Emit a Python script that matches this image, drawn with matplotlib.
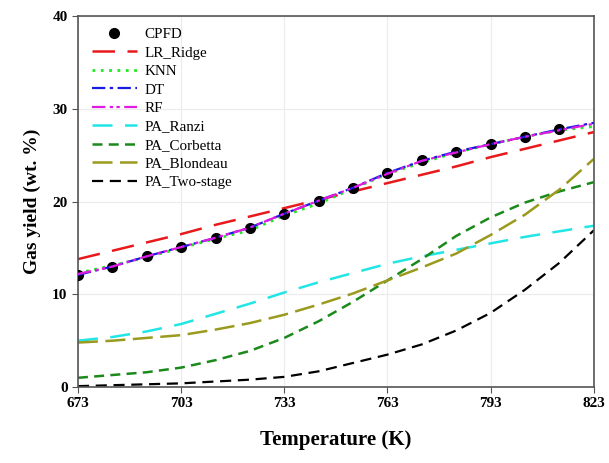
"""Gas yield vs temperature: CPFD points vs ML models and kinetic schemes."""

import matplotlib.pyplot as plt

# CPFD simulation points (every 10 K)
cpfd_t = [673, 683, 693, 703, 713, 723, 733, 743, 753, 763, 773, 783, 793, 803, 813]
cpfd_y = [12.1, 13.0, 14.1, 15.1, 16.1, 17.2, 18.7, 20.1, 21.5, 23.1, 24.5, 25.4, 26.2, 27.0, 27.8]

# model curves
temp = [673, 683, 693, 703, 713, 723, 733, 743, 753, 763, 773, 783, 793, 803, 813, 823]
lr_ridge = [13.8, 14.7, 15.6, 16.5, 17.5, 18.4, 19.3, 20.2, 21.1, 22.0, 22.9, 23.8, 24.8, 25.7, 26.6, 27.5]
knn = [12.3, 13.1, 14.0, 15.0, 16.0, 16.9, 18.5, 19.8, 21.4, 23.0, 24.2, 25.3, 26.2, 27.0, 27.7, 28.1]
dt = [12.1, 13.0, 14.1, 15.1, 16.1, 17.2, 18.7, 20.1, 21.5, 23.1, 24.4, 25.4, 26.2, 27.0, 27.8, 28.5]
rf = [12.2, 13.0, 14.1, 15.1, 16.1, 17.2, 18.7, 20.1, 21.5, 23.0, 24.4, 25.3, 26.2, 27.0, 27.7, 28.4]
pa_ranzi = [5.0, 5.4, 6.0, 6.8, 7.9, 9.0, 10.2, 11.3, 12.3, 13.3, 14.1, 14.8, 15.5, 16.2, 16.8, 17.4]
pa_corbetta = [1.0, 1.3, 1.6, 2.1, 2.9, 3.9, 5.3, 7.1, 9.2, 11.5, 13.8, 16.3, 18.3, 19.9, 21.1, 22.1]
pa_blondeau = [4.8, 5.0, 5.3, 5.6, 6.2, 6.9, 7.8, 8.9, 10.1, 11.5, 12.9, 14.4, 16.4, 18.6, 21.3, 24.6]
pa_two_stage = [0.1, 0.2, 0.3, 0.4, 0.6, 0.8, 1.1, 1.7, 2.6, 3.5, 4.6, 6.1, 8.0, 10.5, 13.4, 16.9]

x_ticks = [673, 703, 733, 763, 793, 823]
y_ticks = [0, 10, 20, 30, 40]

plt.rcParams["font.family"] = ["Liberation Serif", "DejaVu Serif"]

fig = plt.figure(figsize=(6.09, 4.63), dpi=100)
ax = fig.add_axes([0.128, 0.164, 0.847, 0.801])

ax.plot(cpfd_t, cpfd_y, "o", color="black", markersize=7, label="CPFD", zorder=5)
ax.plot(temp, lr_ridge, color="#e8191c", lw=1.8, dashes=(9, 5), label="LR_Ridge")
ax.plot(temp, knn, color="#22e822", lw=2.0, dashes=(1, 2), label="KNN")
ax.plot(temp, dt, color="#1a1ae0", lw=1.6, dashes=(6, 2, 1.5, 2), label="DT", zorder=6)
ax.plot(temp, rf, color="#e01ae0", lw=1.6, dashes=(6, 2, 1.5, 1.5, 1.5, 2), label="RF", zorder=6)
ax.plot(temp, pa_ranzi, color="#22e5e5", lw=1.8, dashes=(8, 5), label="PA_Ranzi")
ax.plot(temp, pa_corbetta, color="#1b8a1b", lw=1.8, dashes=(4, 2.5), label="PA_Corbetta")
ax.plot(temp, pa_blondeau, color="#9a9a1e", lw=1.8, dashes=(8, 3), label="PA_Blondeau")
ax.plot(temp, pa_two_stage, color="black", lw=1.6, dashes=(5, 3), label="PA_Two-stage")

ax.set_xlim(673, 823)
ax.set_ylim(0, 40)
ax.set_xticks(x_ticks)
ax.set_yticks(y_ticks)
ax.grid(True, color="#ebebeb", lw=0.8)
ax.set_axisbelow(True)
for lab in ax.get_xticklabels() + ax.get_yticklabels():
    lab.set_fontweight("bold")
ax.tick_params(labelsize=11, direction="out", length=4, color="#555555")
for s in ax.spines.values():
    s.set_color("#555555")
    s.set_linewidth(1.2)

ax.set_xlabel("Temperature (K)", fontsize=15, fontweight="bold", labelpad=14)
ax.set_ylabel("Gas yield (wt. %)", fontsize=14, fontweight="bold", labelpad=8)

ax.legend(loc="upper left", frameon=False, fontsize=10.8, handlelength=3.0,
          handletextpad=0.5, labelspacing=0.33, borderaxespad=0.0,
          bbox_to_anchor=(0.015, 0.985))

fig.savefig("out.png", dpi=100)
